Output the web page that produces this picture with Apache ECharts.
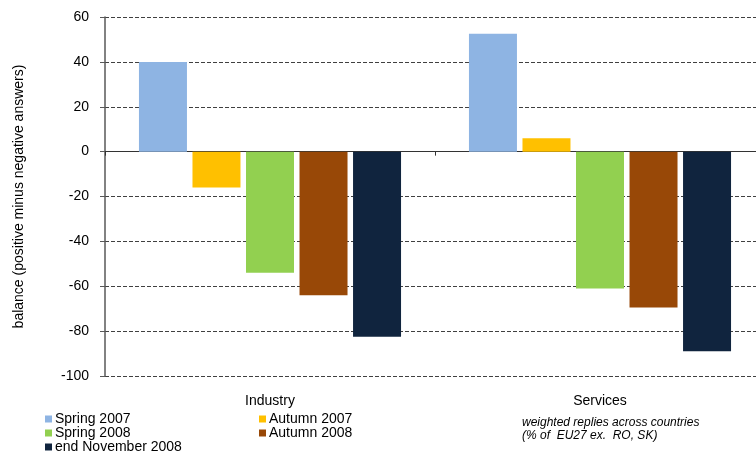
<!DOCTYPE html>
<html>
<head>
<meta charset="utf-8">
<script src="https://cdn.jsdelivr.net/npm/echarts@6/dist/echarts.min.js"></script>
<style>
  html, body { margin: 0; padding: 0; background: #fff; overflow: hidden; }
  /* plot area runs slightly past the right edge of the picture */
  #chart { width: 765px; height: 453px; }
</style>
</head>
<body>
<div id="chart"></div>
<script>
// sectors on the x axis
var categories = ["Industry", "Services"];

// survey rounds (legend order)
var seriesNames = ["Spring 2007", "Autumn 2007", "Spring 2008", "Autumn 2008", "end November 2008"];

// balance values, one array per survey round: [Industry, Services]
var spring2007 = [40, 52.5];
var autumn2007 = [-16, 6];
var spring2008 = [-54, -61];
var autumn2008 = [-64, -69.5];
var novEnd2008 = [-82.5, -89];

var seriesValues = [spring2007, autumn2007, spring2008, autumn2008, novEnd2008];
var colors = ["#8EB4E3", "#FFC000", "#92D050", "#984807", "#10243E"];

var fontFamily = "'Liberation Sans', Arial, sans-serif";

// legend slots: [left, top] for each survey round
var legendPos = [[45, 412], [259, 412], [45, 426], [259, 426], [45, 440]];

var myChart = echarts.init(document.getElementById("chart"));

var series = seriesNames.map(function (name, i) {
  return {
    name: name,
    type: "bar",
    xAxisIndex: 0,
    data: seriesValues[i],
    barWidth: 48,
    barGap: "11.5%",
    itemStyle: { color: colors[i] },
    emphasis: { disabled: true }
  };
});

var legends = seriesNames.map(function (name, i) {
  return {
    left: legendPos[i][0],
    top: legendPos[i][1],
    padding: 0,
    itemWidth: 7,
    itemHeight: 7,
    icon: "rect",
    selectedMode: false,
    data: [name],
    textStyle: { fontSize: 14, color: "#000", fontFamily: fontFamily, padding: [0, 0, 0, -2] }
  };
});

var option = {
  animation: false,
  backgroundColor: "#ffffff",
  textStyle: { fontFamily: fontFamily },
  grid: {
    left: 105,
    right: 0,
    top: 17,
    bottom: 77,
    containLabel: false
  },
  legend: legends,
  xAxis: [
    {
      // zero line with category separators
      type: "category",
      data: categories,
      position: "bottom",
      axisLine: { onZero: true, lineStyle: { color: "#333", width: 1 } },
      axisTick: { show: true, length: 4, lineStyle: { color: "#333" } },
      axisLabel: { show: false },
      splitLine: { show: false }
    },
    {
      // category labels along the bottom
      type: "category",
      data: categories,
      position: "bottom",
      axisLine: { show: false, onZero: false },
      axisTick: { show: false },
      axisLabel: { show: true, margin: 18, fontSize: 14, color: "#000", fontFamily: fontFamily },
      splitLine: { show: false }
    }
  ],
  yAxis: {
    type: "value",
    min: -100,
    max: 60,
    interval: 20,
    name: "balance (positive minus negative answers)",
    nameLocation: "middle",
    nameGap: 79,
    nameTextStyle: { fontSize: 14, color: "#000", fontFamily: fontFamily },
    axisLine: { show: true, lineStyle: { color: "#595959", width: 1.5 } },
    axisTick: { show: true, inside: false, length: 5, lineStyle: { color: "#595959" } },
    axisLabel: { margin: 16, fontSize: 14, color: "#000", fontFamily: fontFamily },
    splitLine: {
      show: true,
      lineStyle: { color: "#404040", width: 1, type: [4, 2] }
    }
  },
  graphic: [
    {
      type: "text",
      left: 522,
      top: 416,
      style: {
        text: "weighted replies across countries\n(% of  EU27 ex.  RO, SK)",
        font: "italic 12px " + fontFamily,
        lineHeight: 13,
        fill: "#000"
      }
    }
  ],
  series: series
};

myChart.setOption(option, true);
</script>
</body>
</html>
